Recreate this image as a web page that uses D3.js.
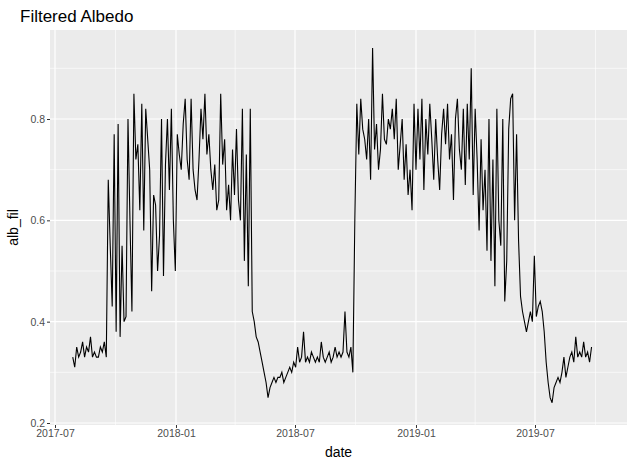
<!DOCTYPE html>
<html><head><meta charset="utf-8">
<script src="https://cdn.jsdelivr.net/npm/d3@7"></script>
<style>body{margin:0;background:#fff}</style></head>
<body><svg id="chart" width="633" height="466"></svg>
<script>
// one reading every 3 days, starting 2017-07-28
var startDate = new Date(2017, 6, 28);
var albFil = [
 0.33,0.31,0.35,0.33,0.34,0.36,0.33,0.35,0.34,0.37,0.33,0.34,0.33,0.33,0.35,0.34,0.36,0.33,
 0.68,0.55,0.43,0.77,0.38,0.79,0.37,0.55,0.40,0.41,0.80,0.60,0.42,0.85,0.72,0.75,0.62,0.83,0.58,0.82,0.76,0.70,0.46,0.65,0.63,0.50,0.57,0.80,0.49,0.71,0.80,0.66,
 0.82,0.60,0.50,0.77,0.73,0.70,0.79,0.84,0.72,0.68,0.84,0.70,0.66,0.64,0.72,0.82,0.76,0.85,0.73,0.77,0.70,0.66,0.71,0.62,0.64,0.85,0.71,0.76,0.62,0.67,0.60,0.74,0.65,0.78,
 0.64,0.60,0.82,0.52,0.73,0.47,0.82,0.42,0.40,0.37,0.36,0.34,0.32,0.30,0.28,
 0.25,0.27,0.28,0.29,0.28,0.29,0.29,0.30,0.28,0.29,0.30,0.31,0.30,0.32,0.31,0.35,0.32,0.33,0.38,0.32,0.33,0.32,0.34,0.33,0.32,0.33,0.32,0.36,0.33,0.32,0.33,0.34,0.32,0.33,0.35,0.33,0.34,0.33,0.34,0.42,0.34,0.33,0.35,
 0.30,0.60,0.83,0.73,
 0.84,0.78,0.76,0.72,0.80,0.68,0.94,0.74,0.79,0.70,0.74,0.85,0.76,0.75,0.80,0.78,0.82,0.76,0.84,0.70,0.75,0.80,0.68,0.75,
 0.65,0.70,0.62,0.83,0.70,0.82,0.72,0.84,0.66,0.80,0.73,0.83,0.76,0.68,0.80,0.72,0.66,0.77,0.82,0.75,0.83,0.72,0.77,0.64,0.80,0.84,0.74,0.70,0.82,0.67,0.83,0.72,0.90,0.65,0.82,0.72,
 0.58,0.76,0.62,0.70,0.54,0.80,0.52,0.72,0.47,0.82,0.60,0.55,0.80,0.44,0.52,0.78,0.84,0.85,0.60,0.77,0.56,0.45,0.42,0.40,
 0.38,0.40,0.42,0.40,0.53,0.41,0.43,0.44,0.42,0.38,0.32,0.28,0.25,0.24,
 0.27,0.28,0.29,0.28,0.30,0.33,0.29,0.31,0.33,0.34,0.32,0.37,0.33,0.34,0.33,0.36,0.33,0.34,0.32,0.35
];
var yTicks = [0.2, 0.4, 0.6, 0.8];
var xTicks = [new Date(2017,6,1), new Date(2018,0,1), new Date(2018,6,1), new Date(2019,0,1), new Date(2019,6,1)];

var data = albFil.map((v, i) => ({date: d3.timeDay.offset(startDate, 3 * i), val: v}));

var svg = d3.select('#chart');
var pLeft = 50, pRight = 627, pTop = 30, pBottom = 425;

var x = d3.scaleTime().domain([new Date(2017,6,1), new Date(2019,6,1)]).range([55, 535]);
x.domain([x.invert(pLeft), x.invert(pRight)]).range([pLeft, pRight]);
var y = d3.scaleLinear().domain([0.2, 0.8]).range([423, 119]);
y.domain([y.invert(pBottom), y.invert(pTop)]).range([pBottom, pTop]);

svg.append('rect').attr('x', pLeft).attr('y', pTop).attr('width', pRight - pLeft).attr('height', pBottom - pTop).attr('fill', '#ebebeb');

// minor grid
var yMinor = [0.3, 0.5, 0.7, 0.9];
var xMinor = [new Date(2017,9,1), new Date(2018,3,1), new Date(2018,9,1), new Date(2019,3,1), new Date(2019,9,1)];
svg.selectAll('.ymin').data(yMinor).enter().append('line')
  .attr('x1', pLeft).attr('x2', pRight).attr('y1', d => y(d)).attr('y2', d => y(d))
  .attr('stroke', '#fff').attr('stroke-width', 0.6);
svg.selectAll('.xmin').data(xMinor).enter().append('line')
  .attr('y1', pTop).attr('y2', pBottom).attr('x1', d => x(d)).attr('x2', d => x(d))
  .attr('stroke', '#fff').attr('stroke-width', 0.6);
// major grid
svg.selectAll('.ymaj').data(yTicks).enter().append('line')
  .attr('x1', pLeft).attr('x2', pRight).attr('y1', d => y(d)).attr('y2', d => y(d))
  .attr('stroke', '#fff').attr('stroke-width', 1.2);
svg.selectAll('.xmaj').data(xTicks).enter().append('line')
  .attr('y1', pTop).attr('y2', pBottom).attr('x1', d => x(d)).attr('x2', d => x(d))
  .attr('stroke', '#fff').attr('stroke-width', 1.2);

svg.append('path').datum(data)
  .attr('d', d3.line().x(d => x(d.date)).y(d => y(d.val)))
  .attr('fill', 'none').attr('stroke', '#000').attr('stroke-width', 1.1);

var xAxis = svg.append('g').attr('transform', `translate(0,${pBottom})`)
  .call(d3.axisBottom(x).tickValues(xTicks).tickFormat(d3.timeFormat('%Y-%m')).tickSize(3).tickPadding(2));
var yAxis = svg.append('g').attr('transform', `translate(${pLeft},0)`)
  .call(d3.axisLeft(y).tickValues(yTicks).tickFormat(d3.format('.1f')).tickSize(3).tickPadding(2));
[xAxis, yAxis].forEach(a => {
  a.select('.domain').remove();
  a.selectAll('line').attr('stroke', '#333');
  a.selectAll('text').attr('fill', '#4d4d4d').style('font-family', 'Liberation Sans, Arial, sans-serif').style('font-size', '10.5px');
});

svg.append('text').attr('x', (pLeft + pRight) / 2).attr('y', 457).attr('text-anchor', 'middle')
  .style('font-family', 'Liberation Sans, Arial, sans-serif').style('font-size', '14px').text('date');
svg.append('text').attr('transform', `translate(18,${(pTop + pBottom) / 2}) rotate(-90)`).attr('text-anchor', 'middle')
  .style('font-family', 'Liberation Sans, Arial, sans-serif').style('font-size', '14px').text('alb_fil');
svg.append('text').attr('x', 20).attr('y', 22)
  .style('font-family', 'Liberation Sans, Arial, sans-serif').style('font-size', '17px').text('Filtered Albedo');
</script></body></html>
